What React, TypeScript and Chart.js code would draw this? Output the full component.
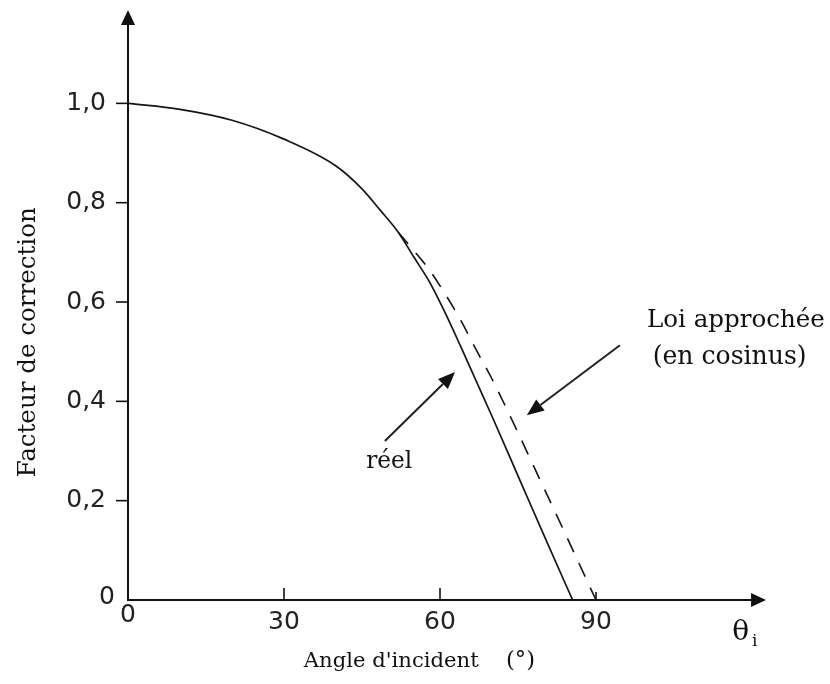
import { useEffect, useRef } from "react";
import { Chart, registerables } from "chart.js";

Chart.register(...registerables);

// ---- data ----
const realAngles = [0, 10, 20, 30, 40, 45, 48.5, 52, 55, 58, 61, 64, 67, 70, 75, 80, 85.5];
const realValues = [1.0, 0.988, 0.966, 0.928, 0.874, 0.828, 0.785, 0.74, 0.69, 0.64, 0.578, 0.51, 0.44, 0.37, 0.25, 0.13, 0];

const cosAngles = [52, 55, 58, 61, 64, 67, 70, 80, 90];
const cosValues = [0.74, 0.703, 0.664, 0.616, 0.563, 0.503, 0.445, 0.225, 0];

const xTicks = [0, 30, 60, 90];
const xTickLabels = ["0", "30", "60", "90"];
const yTicks = [0, 0.2, 0.4, 0.6, 0.8, 1.0];
const yTickLabels = ["0", "0,2", "0,4", "0,6", "0,8", "1,0"];

const xTitle = "Angle d'incident";
const xUnit = "(°)";
const yTitle = "Facteur de correction";
const realLabel = "réel";
const cosLabel1 = "Loi approchée";
const cosLabel2 = "(en cosinus)";

const INK = "#111";
const TEXT_FONT = "'DejaVu Serif', serif";
const NUM_FONT = "'DejaVu Sans', sans-serif";

function arrow(ctx: CanvasRenderingContext2D, x1: number, y1: number, x2: number, y2: number, head: number, half: number) {
  const ang = Math.atan2(y2 - y1, x2 - x1);
  const bx = x2 - head * Math.cos(ang);
  const by = y2 - head * Math.sin(ang);
  ctx.beginPath();
  ctx.moveTo(x1, y1);
  ctx.lineTo(bx, by);
  ctx.stroke();
  ctx.beginPath();
  ctx.moveTo(x2, y2);
  ctx.lineTo(bx + half * Math.sin(ang), by - half * Math.cos(ang));
  ctx.lineTo(bx - half * Math.sin(ang), by + half * Math.cos(ang));
  ctx.closePath();
  ctx.fill();
}

// set the font so that text spans the given width
function fitFont(ctx: CanvasRenderingContext2D, text: string, width: number, family: string) {
  ctx.font = `20px ${family}`;
  const w = ctx.measureText(text).width;
  const size = (20 * width) / w;
  ctx.font = `${size.toFixed(2)}px ${family}`;
}

const axesPlugin = {
  id: "handAxes",
  afterDraw(chart: any) {
    const { ctx, scales } = chart;
    const xs = scales.x;
    const ys = scales.y;
    const px = (v: number) => xs.getPixelForValue(v);
    const py = (v: number) => ys.getPixelForValue(v);
    const x0 = px(0);
    const y0 = py(0);
    ctx.save();
    ctx.strokeStyle = INK;
    ctx.fillStyle = INK;
    ctx.lineCap = "butt";

    // axes
    ctx.lineWidth = 2;
    const yTip = py(1.188);
    arrow(ctx, x0, y0 + 1, x0, yTip, 15, 7);
    const xTip = px(122.7);
    arrow(ctx, x0 - 1, y0, xTip, y0, 15, 7);

    // ticks
    ctx.lineWidth = 1.6;
    yTicks.forEach((t) => {
      if (t === 0) return;
      ctx.beginPath();
      ctx.moveTo(x0 - 12, py(t));
      ctx.lineTo(x0 + 1, py(t));
      ctx.stroke();
    });
    xTicks.forEach((t) => {
      if (t === 0) return;
      ctx.beginPath();
      ctx.moveTo(px(t), y0 - (t === 90 ? 8 : 12));
      ctx.lineTo(px(t), y0);
      ctx.stroke();
    });

    // tick labels
    ctx.font = `25px ${NUM_FONT}`;
    ctx.fillStyle = "#222";
    ctx.textBaseline = "middle";
    yTicks.forEach((t, i) => {
      ctx.textAlign = "right";
      if (t === 0) {
        ctx.fillText(yTickLabels[i], x0 - 13, py(t) - 3);
      } else {
        ctx.fillText(yTickLabels[i], x0 - 22, py(t));
      }
    });
    xTicks.forEach((t, i) => {
      ctx.textAlign = "center";
      ctx.fillText(xTickLabels[i], px(t), t === 0 ? y0 + 15 : y0 + 22);
    });

    // axis titles
    ctx.fillStyle = INK;
    ctx.textAlign = "left";
    ctx.textBaseline = "alphabetic";
    fitFont(ctx, xTitle, 175, TEXT_FONT);
    ctx.fillText(xTitle, px(33.8), y0 + 67);
    fitFont(ctx, xUnit, 29, TEXT_FONT);
    ctx.fillText(xUnit, px(72.7), y0 + 67);

    ctx.save();
    ctx.translate(px(-19.2), py(0.519));
    ctx.rotate(-Math.PI / 2);
    ctx.textAlign = "center";
    ctx.textBaseline = "middle";
    fitFont(ctx, yTitle, 270, TEXT_FONT);
    ctx.fillText(yTitle, 0, 0);
    ctx.restore();

    // theta_i
    ctx.font = `28px ${TEXT_FONT}`;
    ctx.textAlign = "left";
    ctx.textBaseline = "alphabetic";
    ctx.fillText("θ", px(116.2), y0 + 40);
    ctx.font = `17px ${TEXT_FONT}`;
    ctx.fillText("i", px(120), y0 + 46);

    // annotations
    ctx.textBaseline = "middle";
    fitFont(ctx, realLabel, 46, TEXT_FONT);
    ctx.fillText(realLabel, px(45.8), py(0.278));
    fitFont(ctx, cosLabel1, 178, TEXT_FONT);
    ctx.fillText(cosLabel1, px(99.8), py(0.563));
    fitFont(ctx, cosLabel2, 154, TEXT_FONT);
    ctx.fillText(cosLabel2, px(100.9), py(0.488));

    ctx.lineWidth = 2;
    ctx.strokeStyle = "#222";
    ctx.fillStyle = "#111";
    arrow(ctx, px(49.4), py(0.32), px(62.9), py(0.459), 17, 7);
    arrow(ctx, px(94.6), py(0.513), px(76.7), py(0.372), 17, 7);

    ctx.restore();
  },
};

export default function App() {
  const ref = useRef<HTMLCanvasElement | null>(null);

  useEffect(() => {
    document.body.style.margin = "0";
    const canvas = ref.current;
    if (!canvas) return;
    const chart = new Chart(canvas, {
      type: "line",
      data: {
        datasets: [
          {
            label: "réel",
            data: realAngles.map((a, i) => ({ x: a, y: realValues[i] })),
            borderColor: "#151515",
            borderWidth: 1.7,
            pointRadius: 0,
            fill: false,
            cubicInterpolationMode: "monotone",
          },
          {
            label: "Loi approchée (en cosinus)",
            data: cosAngles.map((a, i) => ({ x: a, y: cosValues[i] })),
            borderColor: "#151515",
            borderWidth: 1.6,
            borderDash: [15, 12],
            pointRadius: 0,
            fill: false,
            cubicInterpolationMode: "monotone",
          },
        ],
      },
      options: {
        responsive: false,
        animation: false,
        events: [],
        layout: { padding: { left: 128, right: 78, top: 9, bottom: 84 } },
        plugins: { legend: { display: false }, tooltip: { enabled: false } },
        scales: {
          x: { type: "linear", min: 0, max: 120, display: false },
          y: { type: "linear", min: 0, max: 1.19, display: false },
        },
      },
      plugins: [axesPlugin],
    });
    return () => chart.destroy();
  }, []);

  return (
    <div style={{ width: 830, height: 684, background: "#fff" }}>
      <canvas ref={ref} width={830} height={684} style={{ display: "block" }} />
    </div>
  );
}
